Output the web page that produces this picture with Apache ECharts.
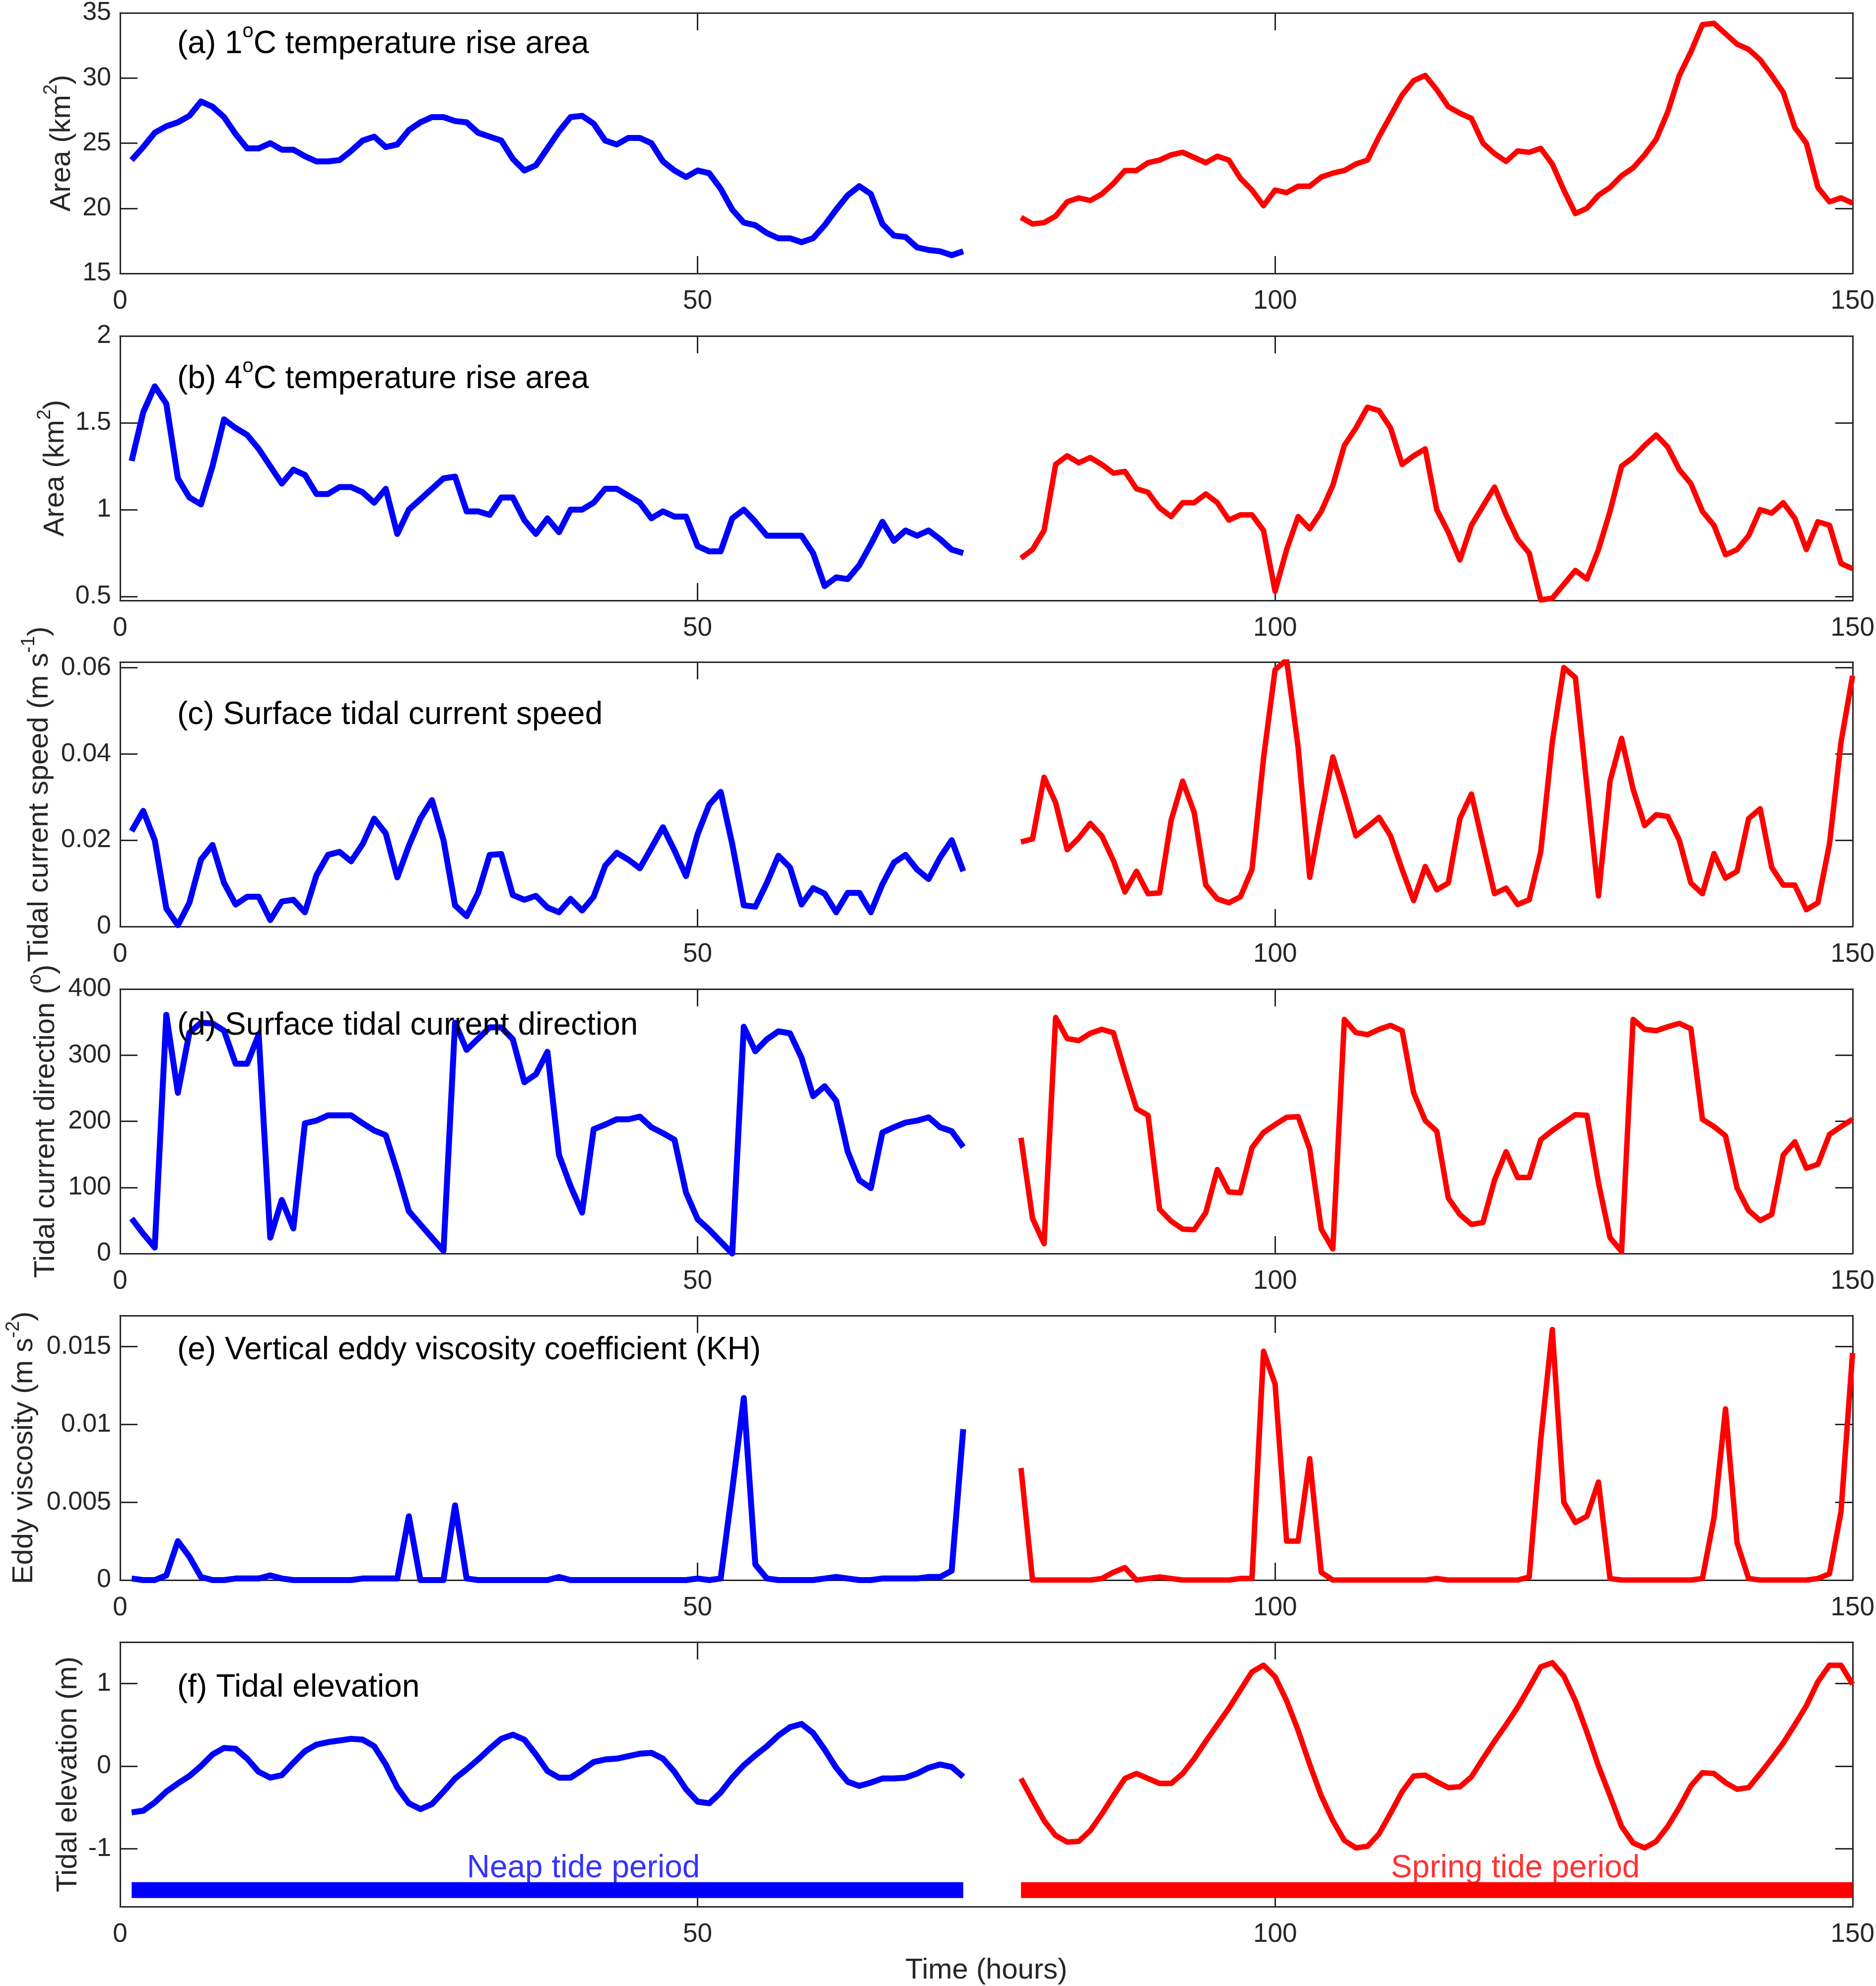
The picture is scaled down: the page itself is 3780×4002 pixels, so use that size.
<!DOCTYPE html>
<html>
<head>
<meta charset="utf-8">
<title>Temperature rise area and tidal conditions</title>
<script src="https://cdn.jsdelivr.net/npm/echarts@6.0.0/dist/echarts.min.js"></script>
<style>
  html, body { margin: 0; padding: 0; background: #fff; }
  #chart { width: 3780px; height: 4002px; }
</style>
</head>
<body>
<div id="chart"></div>
<script>
// hourly samples; neap run starts at hour 1, spring run at hour 78
var neapStart = 1;
var springStart = 78;

var xTicks = [0, 50, 100, 150];

// (a) 1 degree C temperature rise area, km2
var area1Neap = [23.7, 24.7, 25.8, 26.3, 26.6, 27.1, 28.2, 27.8, 27.0, 25.7,
  24.6, 24.6, 25.0, 24.5, 24.5, 24.0, 23.6, 23.6, 23.7, 24.4,
  25.2, 25.5, 24.7, 24.9, 26.0, 26.6, 27.0, 27.0, 26.7, 26.6,
  25.8, 25.5, 25.2, 23.8, 22.9, 23.3, 24.6, 25.9, 27.0, 27.1,
  26.5, 25.2, 24.9, 25.4, 25.4, 25.0, 23.6, 22.9, 22.4, 22.9,
  22.7, 21.5, 19.9, 18.9, 18.7, 18.1, 17.7, 17.7, 17.4, 17.7,
  18.7, 19.9, 21.0, 21.7, 21.1, 18.8, 17.9, 17.8, 17.0, 16.8,
  16.7, 16.4, 16.7];
var area1Spring = [19.3, 18.8, 18.9, 19.4, 20.5, 20.8, 20.6, 21.1, 21.9, 22.9,
  22.9, 23.5, 23.7, 24.1, 24.3, 23.9, 23.5, 24.0, 23.7, 22.3,
  21.4, 20.2, 21.4, 21.2, 21.7, 21.7, 22.4, 22.7, 22.9, 23.4,
  23.7, 25.5, 27.1, 28.7, 29.8, 30.2, 29.1, 27.8, 27.3, 26.9,
  25.0, 24.2, 23.6, 24.4, 24.3, 24.6, 23.4, 21.4, 19.6, 20.0,
  21.0, 21.6, 22.5, 23.1, 24.1, 25.3, 27.4, 30.2, 32.0, 34.1,
  34.2, 33.4, 32.6, 32.2, 31.4, 30.2, 28.9, 26.2, 25.0, 21.6,
  20.5, 20.8, 20.4];
var area1Ticks = [15, 20, 25, 30, 35];

// (b) 4 degree C temperature rise area, km2
var area4Neap = [1.28, 1.56, 1.71, 1.61, 1.18, 1.07, 1.03, 1.25, 1.52, 1.47,
  1.43, 1.35, 1.25, 1.15, 1.23, 1.20, 1.09, 1.09, 1.13, 1.13,
  1.10, 1.04, 1.12, 0.86, 1.00, 1.06, 1.12, 1.18, 1.19, 0.99,
  0.99, 0.97, 1.07, 1.07, 0.94, 0.86, 0.95, 0.87, 1.00, 1.00,
  1.04, 1.12, 1.12, 1.08, 1.04, 0.95, 0.99, 0.96, 0.96, 0.79,
  0.76, 0.76, 0.95, 1.00, 0.93, 0.85, 0.85, 0.85, 0.85, 0.75,
  0.56, 0.61, 0.60, 0.68, 0.80, 0.93, 0.82, 0.88, 0.85, 0.88,
  0.83, 0.77, 0.75];
var area4Spring = [0.72, 0.77, 0.88, 1.26, 1.31, 1.27, 1.30, 1.26, 1.21, 1.22,
  1.12, 1.10, 1.01, 0.96, 1.04, 1.04, 1.09, 1.04, 0.94, 0.97,
  0.97, 0.88, 0.53, 0.77, 0.96, 0.89, 0.99, 1.14, 1.37, 1.47,
  1.59, 1.57, 1.47, 1.26, 1.31, 1.35, 1.00, 0.87, 0.71, 0.91,
  1.02, 1.13, 0.97, 0.83, 0.75, 0.48, 0.49, 0.57, 0.65, 0.60,
  0.77, 0.99, 1.25, 1.30, 1.37, 1.43, 1.36, 1.23, 1.15, 0.99,
  0.91, 0.74, 0.77, 0.85, 1.00, 0.98, 1.04, 0.95, 0.77, 0.93,
  0.91, 0.69, 0.66];
var area4Ticks = [0.5, 1, 1.5, 2];

// (c) surface tidal current speed, m/s
var speedNeap = [0.0221, 0.0268, 0.0200, 0.0042, 0.0003, 0.0055, 0.0155, 0.0189, 0.0101, 0.0051,
  0.0069, 0.0069, 0.0015, 0.0058, 0.0062, 0.0033, 0.0119, 0.0166, 0.0173, 0.0151,
  0.0191, 0.0250, 0.0216, 0.0114, 0.0187, 0.0250, 0.0293, 0.0200, 0.0049, 0.0024,
  0.0078, 0.0166, 0.0168, 0.0073, 0.0062, 0.0071, 0.0044, 0.0033, 0.0064, 0.0037,
  0.0069, 0.0141, 0.0171, 0.0155, 0.0135, 0.0182, 0.0230, 0.0176, 0.0117, 0.0214,
  0.0282, 0.0312, 0.0191, 0.0049, 0.0046, 0.0101, 0.0164, 0.0137, 0.0051, 0.0089,
  0.0076, 0.0033, 0.0078, 0.0078, 0.0033, 0.0098, 0.0148, 0.0166, 0.0132, 0.0110,
  0.0160, 0.0200, 0.0128];
var speedSpring = [0.0196, 0.0203, 0.0346, 0.0287, 0.0178, 0.0205, 0.0239, 0.0210, 0.0153, 0.0080,
  0.0128, 0.0076, 0.0078, 0.0246, 0.0337, 0.0264, 0.0096, 0.0064, 0.0055, 0.0069,
  0.0132, 0.0390, 0.0595, 0.0618, 0.0414, 0.0114, 0.0259, 0.0393, 0.0305, 0.0210,
  0.0231, 0.0253, 0.0210, 0.0132, 0.0060, 0.0139, 0.0085, 0.0101, 0.0250, 0.0307,
  0.0191, 0.0076, 0.0089, 0.0051, 0.0062, 0.0173, 0.0427, 0.0600, 0.0577, 0.0325,
  0.0071, 0.0337, 0.0436, 0.0318, 0.0234, 0.0259, 0.0255, 0.0200, 0.0101, 0.0076,
  0.0169, 0.0112, 0.0128, 0.0250, 0.0273, 0.0137, 0.0096, 0.0096, 0.0039, 0.0055,
  0.0191, 0.0427, 0.0581];
var speedTicks = [0, 0.02, 0.04, 0.06];

// (d) surface tidal current direction, degrees
var dirNeap = [53, 30, 9, 361, 243, 334, 349, 348, 337, 287,
  287, 331, 24, 81, 38, 197, 201, 209, 209, 209,
  197, 186, 179, 124, 64, 44, 24, 4, 349, 308,
  325, 342, 342, 324, 259, 271, 305, 149, 102, 62,
  188, 195, 203, 203, 207, 191, 182, 172, 92, 52,
  36, 18, 0, 343, 306, 324, 336, 333, 296, 238,
  253, 231, 154, 111, 99, 183, 191, 198, 201, 206,
  191, 185, 161];
var dirSpring = [175, 53, 15, 357, 325, 322, 333, 339, 334, 275,
  219, 209, 67, 49, 37, 36, 62, 127, 93, 92,
  160, 183, 195, 206, 207, 158, 37, 7, 354, 334,
  331, 339, 345, 337, 243, 201, 185, 84, 59, 44,
  47, 111, 154, 115, 115, 172, 186, 198, 210, 209,
  107, 24, 3, 354, 339, 337, 343, 348, 340, 203,
  192, 178, 99, 65, 50, 59, 149, 169, 129, 135,
  180, 192, 203];
var dirTicks = [0, 100, 200, 300, 400];

// (e) vertical eddy viscosity coefficient
var khNeap = [0.0001, 0, 0, 0.0003, 0.0025, 0.0015, 0.0002, 0, 0, 0.0001,
  0.0001, 0.0001, 0.0003, 0.0001, 0, 0, 0, 0, 0, 0,
  0.0001, 0.0001, 0.0001, 0.0001, 0.0041, 0, 0, 0, 0.0048, 0.0001,
  0, 0, 0, 0, 0, 0, 0, 0.0002, 0, 0,
  0, 0, 0, 0, 0, 0, 0, 0, 0, 0.0001,
  0, 0.0001, 0.0058, 0.0117, 0.0010, 0.0001, 0, 0, 0, 0,
  0.0001, 0.0002, 0.0001, 0, 0, 0.0001, 0.0001, 0.0001, 0.0001, 0.0002,
  0.0002, 0.0006, 0.0097];
var khSpring = [0.0072, 0, 0, 0, 0, 0, 0, 0.0001, 0.0005, 0.0008,
  0, 0.0001, 0.0002, 0.0001, 0, 0, 0, 0, 0, 0.0001,
  0.0001, 0.0147, 0.0126, 0.0025, 0.0025, 0.0078, 0.0005, 0, 0, 0,
  0, 0, 0, 0, 0, 0, 0.0001, 0, 0, 0,
  0, 0, 0, 0, 0.0002, 0.0090, 0.0161, 0.0050, 0.0037, 0.0041,
  0.0063, 0.0001, 0, 0, 0, 0, 0, 0, 0, 0.0001,
  0.0040, 0.0110, 0.0024, 0.0001, 0, 0, 0, 0, 0, 0.0001,
  0.0004, 0.0044, 0.0146];
var khTicks = [0, 0.005, 0.01, 0.015];

// (f) tidal elevation, m
var elevNeap = [-0.56, -0.54, -0.44, -0.31, -0.21, -0.12, 0.00, 0.14, 0.22, 0.21,
  0.09, -0.07, -0.14, -0.11, 0.04, 0.18, 0.26, 0.29, 0.31, 0.33,
  0.32, 0.24, 0.02, -0.26, -0.45, -0.52, -0.46, -0.31, -0.15, -0.04,
  0.08, 0.21, 0.33, 0.38, 0.32, 0.14, -0.06, -0.14, -0.14, -0.05,
  0.05, 0.08, 0.09, 0.12, 0.15, 0.16, 0.09, -0.07, -0.28, -0.43,
  -0.45, -0.32, -0.14, 0.01, 0.13, 0.24, 0.37, 0.47, 0.51, 0.40,
  0.20, -0.02, -0.19, -0.24, -0.20, -0.15, -0.15, -0.14, -0.09, -0.02,
  0.02, -0.01, -0.13];
var elevSpring = [-0.15, -0.41, -0.66, -0.84, -0.92, -0.91, -0.78, -0.58, -0.36, -0.15,
  -0.09, -0.15, -0.21, -0.21, -0.09, 0.09, 0.30, 0.50, 0.70, 0.92,
  1.14, 1.22, 1.08, 0.79, 0.43, 0.02, -0.36, -0.66, -0.90, -0.99,
  -0.97, -0.82, -0.57, -0.31, -0.12, -0.11, -0.19, -0.26, -0.25, -0.13,
  0.09, 0.30, 0.50, 0.71, 0.95, 1.20, 1.25, 1.09, 0.79, 0.41,
  0.00, -0.36, -0.73, -0.93, -0.99, -0.91, -0.73, -0.50, -0.24, -0.08,
  -0.09, -0.20, -0.28, -0.26, -0.09, 0.09, 0.28, 0.50, 0.73, 1.02,
  1.22, 1.22, 0.99];
var elevTicks = [-1, 0, 1];

var FONT = '"Liberation Sans", Arial, Helvetica, sans-serif';
var INK = '#262626';
var BLUE = '#0000ff';
var RED = '#ff0000';

var panels = [
  {top: 18, min: 15, max: 35, ticks: area1Ticks, neap: area1Neap, spring: area1Spring,
    title: '{n|(a) 1}{s|o}{n|C temperature rise area}', titleY: 89,
    yName: '{n|Area (km}{s|2}{n|)}', nameGap: 77},
  {top: 677, min: 0.477, max: 2, ticks: area4Ticks, neap: area4Neap, spring: area4Spring,
    title: '{n|(b) 4}{s|o}{n|C temperature rise area}', titleY: 764,
    yName: '{n|Area (km}{s|2}{n|)}', nameGap: 77},
  {top: 1334, min: 0, max: 0.0613, ticks: speedTicks, neap: speedNeap, spring: speedSpring,
    title: '{n|(c) Surface tidal current speed}', titleY: 1441,
    yName: '{n|Tidal current speed (m s}{s|-1}{n|)}', nameGap: 122},
  {top: 1993, min: 0, max: 400, ticks: dirTicks, neap: dirNeap, spring: dirSpring,
    title: '{n|(d) Surface tidal current direction}', titleY: 2067,
    yName: '{n|Tidal current direction (}{s|o}{n|)}', nameGap: 109},
  {top: 2651, min: 0, max: 0.017, ticks: khTicks, neap: khNeap, spring: khSpring,
    title: '{n|(e) Vertical eddy viscosity coefficient (KH)}', titleY: 2721,
    yName: '{n|Eddy viscosity (m s}{s|-2}{n|)}', nameGap: 153},
  {top: 3309, min: -1.7, max: 1.5, ticks: elevTicks, neap: elevNeap, spring: elevSpring,
    title: '{n|(f) Tidal elevation}', titleY: 3401,
    yName: '{n|Tidal elevation (m)}', nameGap: 64}
];
var PANEL_H = 533;

function hourly(start, values) {
  return values.map(function (v, k) { return [start + k, v]; });
}

function numLabel(v) { return String(v); }

var titleRich = {
  n: {fontFamily: FONT, fontSize: 64, lineHeight: 90, color: '#000'},
  s: {fontFamily: FONT, fontSize: 40, lineHeight: 22, verticalAlign: 'top', color: '#000'}
};
var nameRich = {
  n: {fontFamily: FONT, fontSize: 58, lineHeight: 80, color: INK},
  s: {fontFamily: FONT, fontSize: 38, lineHeight: 17, verticalAlign: 'top', color: INK}
};

var boxLine = {onZero: false, lineStyle: {color: INK, width: 3}};
var tickStyle = {color: INK, width: 3};

var grids = [], xAxes = [], yAxes = [], series = [], titles = [];

panels.forEach(function (p, i) {
  var last = i === panels.length - 1;
  grids.push({left: 242, right: 43, top: p.top, height: PANEL_H});

  xAxes.push({
    type: 'value', gridIndex: i, position: 'bottom', min: 0, max: 150,
    axisLine: boxLine,
    axisTick: {inside: true, length: 35, lineStyle: tickStyle, customValues: xTicks},
    axisLabel: {margin: 30, fontSize: 53, fontFamily: FONT, color: INK, customValues: xTicks, formatter: numLabel},
    splitLine: {show: false},
    name: last ? 'Time (hours)' : '',
    nameLocation: 'middle', nameGap: 100,
    nameTextStyle: {fontFamily: FONT, fontSize: 58, color: INK}
  });
  xAxes.push({
    type: 'value', gridIndex: i, position: 'top', min: 0, max: 150,
    axisLine: boxLine,
    axisTick: {inside: true, length: 35, lineStyle: tickStyle, customValues: xTicks},
    axisLabel: {show: false},
    splitLine: {show: false}
  });

  yAxes.push({
    type: 'value', gridIndex: i, position: 'left', min: p.min, max: p.max,
    axisLine: boxLine,
    axisTick: {inside: true, length: 35, lineStyle: tickStyle, customValues: p.ticks},
    axisLabel: {margin: 18, fontSize: 52, fontFamily: FONT, color: INK, customValues: p.ticks, formatter: numLabel},
    splitLine: {show: false},
    name: p.yName, nameLocation: 'middle', nameGap: p.nameGap,
    nameTextStyle: {rich: nameRich}
  });
  yAxes.push({
    type: 'value', gridIndex: i, position: 'right', min: p.min, max: p.max,
    axisLine: boxLine,
    axisTick: {inside: true, length: 35, lineStyle: tickStyle, customValues: p.ticks},
    axisLabel: {show: false},
    splitLine: {show: false}
  });

  series.push({
    type: 'line', name: 'Neap', xAxisIndex: 2 * i, yAxisIndex: 2 * i,
    data: hourly(neapStart, p.neap), showSymbol: false, silent: true,
    lineStyle: {color: BLUE, width: 12, join: 'round'}, z: 3
  });
  series.push({
    type: 'line', name: 'Spring', xAxisIndex: 2 * i, yAxisIndex: 2 * i,
    data: hourly(springStart, p.spring), showSymbol: false, silent: true,
    lineStyle: {color: RED, width: 11, join: 'round'}, z: 3
  });

  titles.push({
    text: p.title, left: 357, top: p.titleY - 45, padding: 0,
    textStyle: {fontFamily: FONT, fontSize: 64, fontWeight: 'normal', color: '#000', rich: titleRich}
  });
});

// period bars and their labels in the tidal elevation panel
var fi = panels.length - 1;
var periodLevel = -1.5;
var neapEnd = neapStart + elevNeap.length - 1;
var springEnd = springStart + elevSpring.length - 1;

series.push({
  type: 'line', xAxisIndex: 2 * fi, yAxisIndex: 2 * fi, silent: true, showSymbol: false,
  data: [[neapStart, periodLevel], [neapEnd, periodLevel]],
  lineStyle: {color: BLUE, width: 32, cap: 'butt'}
});
series.push({
  type: 'line', xAxisIndex: 2 * fi, yAxisIndex: 2 * fi, silent: true, showSymbol: false,
  data: [[springStart, periodLevel], [springEnd, periodLevel]],
  lineStyle: {color: RED, width: 32, cap: 'butt'}
});

function periodText(x, text, color) {
  return {
    type: 'scatter', xAxisIndex: 2 * fi, yAxisIndex: 2 * fi, silent: true,
    symbolSize: 1, itemStyle: {color: 'rgba(0,0,0,0)'},
    data: [[x, -1.24]],
    label: {show: true, position: 'right', distance: 0, formatter: text,
      color: color, fontSize: 64, fontFamily: FONT}
  };
}
series.push(periodText(30, 'Neap tide period', BLUE));
series.push(periodText(110, 'Spring tide period', RED));

var chart = echarts.init(document.getElementById('chart'));
chart.setOption({
  animation: false,
  backgroundColor: '#fff',
  title: titles,
  grid: grids,
  xAxis: xAxes,
  yAxis: yAxes,
  series: series
});
</script>
</body>
</html>
